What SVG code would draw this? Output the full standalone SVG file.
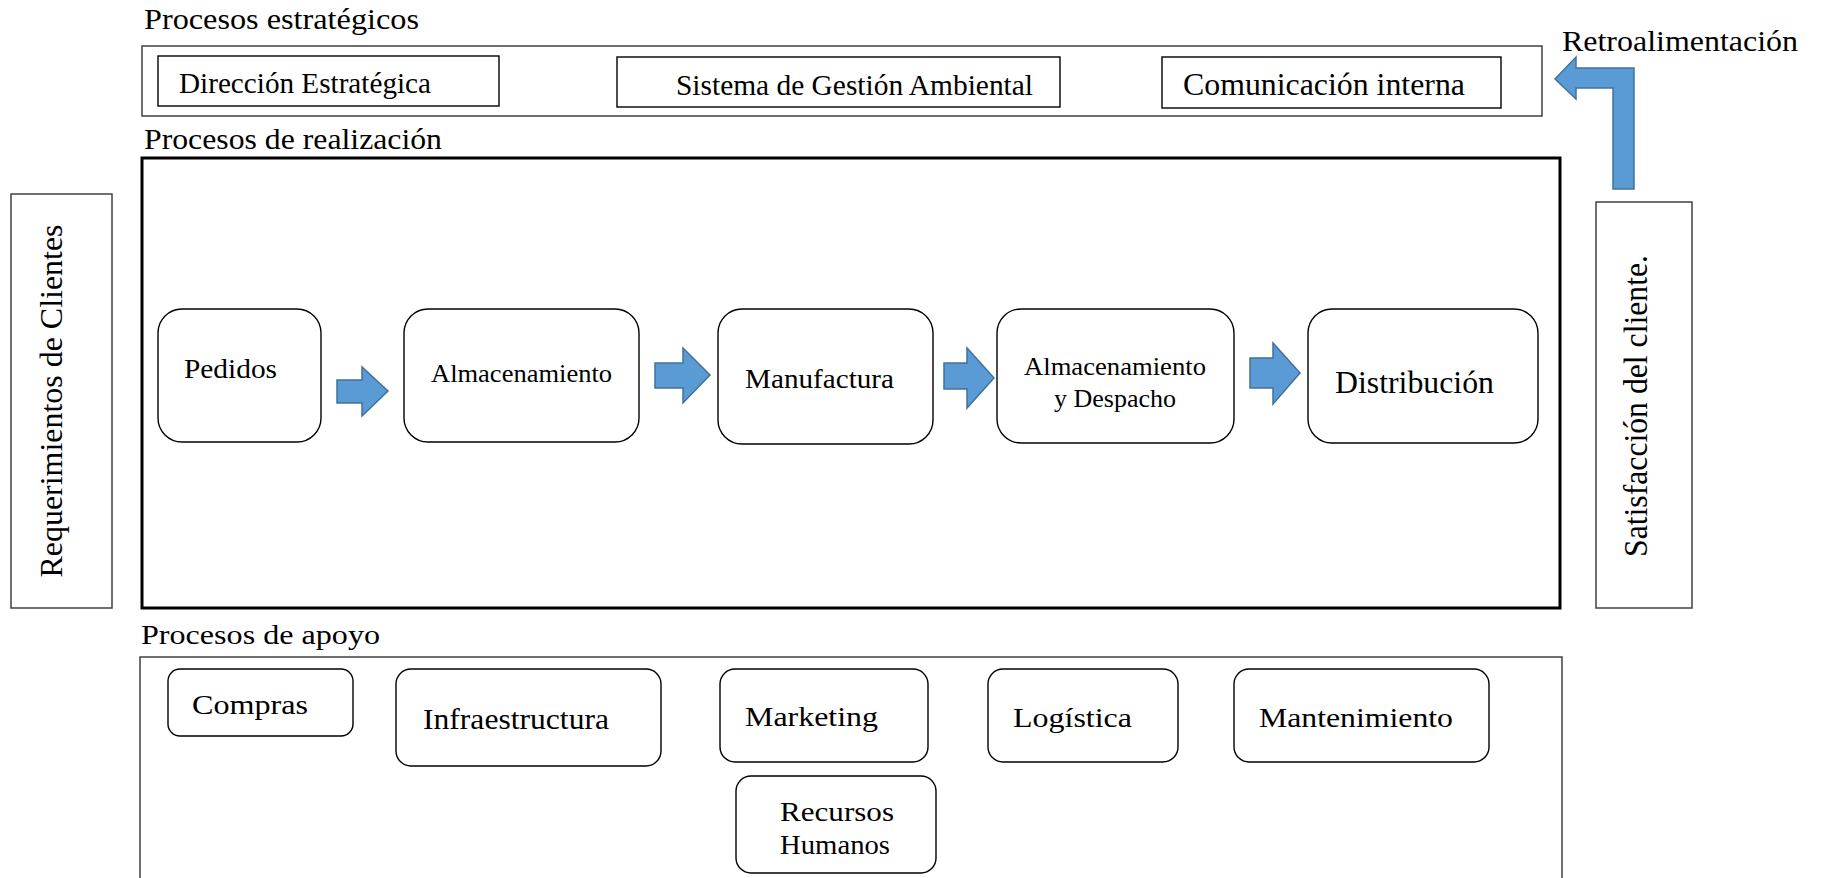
<svg xmlns="http://www.w3.org/2000/svg" width="1822" height="878" viewBox="0 0 1822 878">
  <style>
    text { font-family: "Liberation Serif", "Times New Roman", serif; fill: #000; }
    .frame { fill: #fff; stroke: #404040; stroke-width: 1.5; }
    .main { fill: #fff; stroke: #000; stroke-width: 3; }
    .item { fill: #fff; stroke: #000; stroke-width: 1.4; }
    .step { fill: #fff; stroke: #000; stroke-width: 1.4; }
    .flow { fill: #5b9bd5; stroke: #41719c; stroke-width: 1.5; }
  </style>
  <rect width="1822" height="878" fill="#fff"/>

  <!-- Strategic processes -->
  <g id="estrategicos">
    <text x="144" y="29" font-size="29" textLength="275" lengthAdjust="spacingAndGlyphs">Procesos estratégicos</text>
    <rect class="frame" x="142" y="46" width="1400" height="70"/>
  </g>
  <g id="direccion">
    <rect class="item" x="158" y="56" width="341" height="50"/>
    <text x="179" y="93" font-size="30" textLength="252" lengthAdjust="spacingAndGlyphs">Dirección Estratégica</text>
  </g>
  <g id="sga">
    <rect class="item" x="617" y="57" width="443" height="50"/>
    <text x="676" y="95" font-size="30" textLength="357" lengthAdjust="spacingAndGlyphs">Sistema de Gestión Ambiental</text>
  </g>
  <g id="comunicacion">
    <rect class="item" x="1162" y="57" width="339" height="51"/>
    <text x="1183" y="95" font-size="31" textLength="282" lengthAdjust="spacingAndGlyphs">Comunicación interna</text>
  </g>
  <g id="retroalimentacion">
    <text x="1562" y="51" font-size="29" textLength="236" lengthAdjust="spacingAndGlyphs">Retroalimentación</text>
  </g>

  <!-- Realization processes -->
  <g id="realizacion">
    <text x="144" y="149" font-size="29" textLength="298" lengthAdjust="spacingAndGlyphs">Procesos de realización</text>
    <rect class="main" x="142" y="158" width="1418" height="450"/>
  </g>
  <g id="requerimientos">
    <rect class="frame" x="11" y="194" width="101" height="414"/>
    <text transform="translate(62,401) rotate(-90)" x="0" y="0" text-anchor="middle" font-size="32" textLength="353" lengthAdjust="spacingAndGlyphs">Requerimientos de Clientes</text>
  </g>
  <g id="satisfaccion">
    <rect class="frame" x="1596" y="202" width="96" height="406"/>
    <text transform="translate(1647,406) rotate(-90)" x="0" y="0" text-anchor="middle" font-size="33" textLength="302" lengthAdjust="spacingAndGlyphs">Satisfacción del cliente.</text>
  </g>
  <g id="pedidos">
    <rect class="step" x="158" y="309" width="163" height="133" rx="24" ry="24"/>
    <text x="184" y="378" font-size="27" textLength="93" lengthAdjust="spacingAndGlyphs">Pedidos</text>
  </g>
  <g id="almacenamiento">
    <rect class="step" x="404" y="309" width="235" height="133" rx="24" ry="24"/>
    <text x="431" y="382" font-size="25" textLength="181" lengthAdjust="spacingAndGlyphs">Almacenamiento</text>
  </g>
  <g id="manufactura">
    <rect class="step" x="718" y="309" width="215" height="135" rx="24" ry="24"/>
    <text x="745" y="388" font-size="27" textLength="149" lengthAdjust="spacingAndGlyphs">Manufactura</text>
  </g>
  <g id="despacho">
    <rect class="step" x="997" y="309" width="237" height="134" rx="24" ry="24"/>
    <text x="1024" y="375" font-size="25" textLength="182" lengthAdjust="spacingAndGlyphs">Almacenamiento</text>
    <text x="1054" y="407" font-size="25" textLength="122" lengthAdjust="spacingAndGlyphs">y Despacho</text>
  </g>
  <g id="distribucion">
    <rect class="step" x="1308" y="309" width="230" height="134" rx="24" ry="24"/>
    <text x="1335" y="393" font-size="31" textLength="159" lengthAdjust="spacingAndGlyphs">Distribución</text>
  </g>

  <!-- Support processes -->
  <g id="apoyo">
    <text x="141" y="644" font-size="27" textLength="239" lengthAdjust="spacingAndGlyphs">Procesos de apoyo</text>
    <rect class="frame" x="140" y="657" width="1422" height="240"/>
  </g>
  <g id="compras">
    <rect class="item" x="168" y="669" width="185" height="67" rx="12" ry="12"/>
    <text x="192" y="714" font-size="28" textLength="116" lengthAdjust="spacingAndGlyphs">Compras</text>
  </g>
  <g id="infraestructura">
    <rect class="item" x="396" y="669" width="265" height="97" rx="15" ry="15"/>
    <text x="423" y="729" font-size="29" textLength="186" lengthAdjust="spacingAndGlyphs">Infraestructura</text>
  </g>
  <g id="marketing">
    <rect class="item" x="720" y="669" width="208" height="93" rx="15" ry="15"/>
    <text x="745" y="726" font-size="28" textLength="133" lengthAdjust="spacingAndGlyphs">Marketing</text>
  </g>
  <g id="logistica">
    <rect class="item" x="988" y="669" width="190" height="93" rx="15" ry="15"/>
    <text x="1013" y="727" font-size="28" textLength="119" lengthAdjust="spacingAndGlyphs">Logística</text>
  </g>
  <g id="mantenimiento">
    <rect class="item" x="1234" y="669" width="255" height="93" rx="15" ry="15"/>
    <text x="1259" y="727" font-size="28" textLength="194" lengthAdjust="spacingAndGlyphs">Mantenimiento</text>
  </g>
  <g id="rrhh">
    <rect class="item" x="736" y="776" width="200" height="97" rx="15" ry="15"/>
    <text x="780" y="821" font-size="27" textLength="114" lengthAdjust="spacingAndGlyphs">Recursos</text>
    <text x="780" y="854" font-size="27" textLength="110" lengthAdjust="spacingAndGlyphs">Humanos</text>
  </g>

  <!-- Block arrows between steps and the feedback arrow -->
  <g id="connectors">
    <path class="flow" d="M337,380 H362 V367 L388,391 L362,416 V403 H337 Z"/>
    <path class="flow" d="M655,363 H683 V348 L710,375 L683,403 V388 H655 Z"/>
    <path class="flow" d="M944,363 H967 V348 L994,378 L967,408 V389 H944 Z"/>
    <path class="flow" d="M1250,358 H1273 V343 L1300,373 L1273,404 V388 H1250 Z"/>
    <path class="flow" d="M1555,79 L1576,57 V68 H1634 V189 H1613 V88 H1576 V99 Z"/>
  </g>
</svg>
